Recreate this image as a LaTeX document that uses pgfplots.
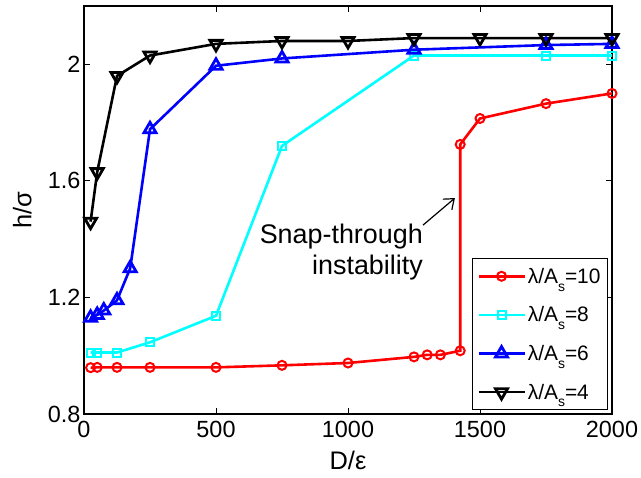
\documentclass[border=0pt]{standalone}
\usepackage{fontspec}
\setmainfont{Liberation Sans}
\usepackage{pgfplots}
\usetikzlibrary{arrows.meta}
\pgfplotsset{compat=1.18}
\definecolor{mcyan}{rgb}{0,1,1}
\newcommand{\sub}[1]{\raisebox{-0.38em}{\fontsize{14}{14}\selectfont #1}}
\begin{document}
\begin{tikzpicture}
\begin{axis}[
  scale only axis,
  width=528bp, height=408bp,
  xmin=0, xmax=2000, ymin=0.8, ymax=2.2,
  xtick={0,500,1000,1500,2000},
  ytick={0.8,1.2,1.6,2.0},
  yticklabels={0.8,1.2,1.6,2},
  tick align=inside,
  major tick length=6bp,
  axis line style={line width=1.1bp},
  every tick/.style={line width=0.9bp, black},
  /pgf/number format/assume math mode=true,
  /pgf/number format/set thousands separator={},
  ticklabel style={font=\fontsize{23.5}{27}\selectfont},
  xticklabel style={yshift=-4bp},
  xlabel={D/ε},
  ylabel={h/σ},
  xlabel style={font=\fontsize{25.5}{30}\selectfont, at={(axis description cs:0.5,-0.113)}, anchor=center},
  ylabel style={font=\fontsize{25.5}{30}\selectfont, at={(axis description cs:-0.117,0.5)}, anchor=center, rotate=0},
  legend cell align=left,
  legend style={at={(rel axis cs:1,0)}, anchor=south east, xshift=-4bp, yshift=4bp,
    font=\fontsize{21}{24}\selectfont, draw=black, line width=1bp,
    inner xsep=5bp, inner ysep=7bp, /tikz/row sep=18bp},
  legend image code/.code={\draw[mark repeat=2,mark phase=2,#1] plot coordinates {(0bp,0bp)(23bp,0bp)(46bp,0bp)};},
]
\addplot[red, line width=2.6bp, mark=o, mark size=4.5bp, mark options={line width=2bp, fill=none}] coordinates {
(25,0.959)(50,0.96)(125,0.96)(250,0.96)(500,0.96)(750,0.967)(1000,0.975)(1250,0.996)(1300,1.003)(1350,1.003)(1425,1.017)(1425,1.725)(1500,1.814)(1750,1.865)(2000,1.90)};
\addlegendentry{λ/A\sub{s}=10}
\addplot[mcyan, line width=2.6bp, mark=square, mark size=4bp, mark options={line width=2bp}] coordinates {
(25,1.011)(50,1.011)(125,1.011)(250,1.046)(500,1.137)(750,1.72)(1250,2.03)(1750,2.03)(2000,2.03)};
\addlegendentry{λ/A\sub{s}=8}
\addplot[blue, line width=2.6bp, mark=triangle, mark size=7bp, mark options={line width=2.8bp}] coordinates {
(25,1.13)(50,1.14)(75,1.155)(125,1.19)(175,1.30)(250,1.777)(500,1.995)(750,2.02)(1250,2.05)(1750,2.066)(2000,2.07)};
\addlegendentry{λ/A\sub{s}=6}
\addplot[black, line width=2.6bp, mark=triangle, mark size=7bp, mark options={line width=2.8bp, rotate=180}] coordinates {
(25,1.46)(50,1.63)(125,1.96)(250,2.03)(500,2.07)(750,2.08)(1000,2.08)(1250,2.09)(1500,2.09)(1750,2.09)(2000,2.09)};
\addlegendentry{λ/A\sub{s}=4}
\node[align=right, anchor=east, font=\fontsize{27}{31}\selectfont, inner sep=0pt] at (axis cs:1284,1.355) {Snap-through\\instability};
\draw[-{Straight Barb[length=9bp,width=14bp,line width=1.2bp]}, line width=1.2bp] (axis cs:1284,1.448) -- (axis cs:1405,1.541);
\coordinate (sw) at (rel axis cs:0,0);
\coordinate (ne) at (rel axis cs:1,1);
\end{axis}
\pgfresetboundingbox
\path[use as bounding box] ([shift={(-84bp,-64bp)}]sw) rectangle ([shift={(29bp,6bp)}]ne);
\end{tikzpicture}
\end{document}
